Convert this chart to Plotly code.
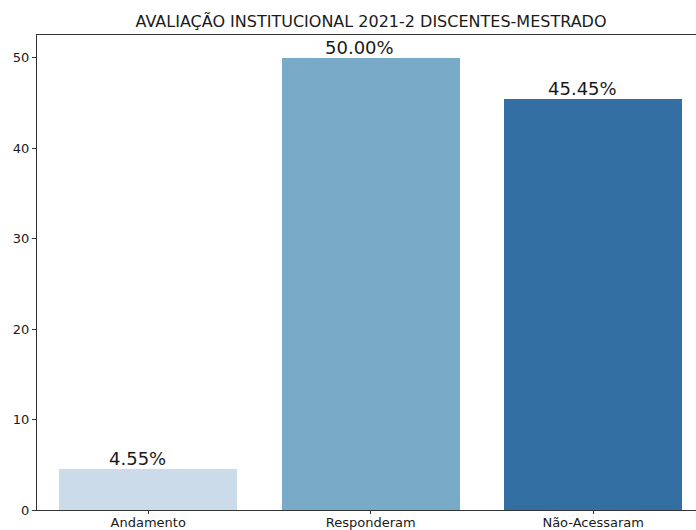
import plotly.graph_objects as go

categories = ["Andamento", "Responderam", "Não-Acessaram"]
values = [4.55, 50.00, 45.45]
labels = ["4.55%", "50.00%", "45.45%"]
colors = ["#cbdbea", "#79abc9", "#346fa3"]
title = "AVALIAÇÃO INSTITUCIONAL 2021-2 DISCENTES-MESTRADO"

fig = go.Figure()
fig.add_trace(go.Bar(
    x=list(range(len(categories))), y=values, width=0.8,
    marker=dict(color=colors, line=dict(width=0)),
    hoverinfo="skip",
))
for i, (v, t) in enumerate(zip(values, labels)):
    fig.add_annotation(x=i, y=v, text=t, showarrow=False, yanchor="bottom",
                       xshift=-11, yshift=-2,
                       font=dict(family="DejaVu Sans", size=18, color="#1a1a1a"))

fig.update_layout(
    width=696, height=530,
    margin=dict(l=37, r=0, t=35, b=20, autoexpand=False),
    paper_bgcolor="white", plot_bgcolor="white",
    showlegend=False,
    font=dict(family="DejaVu Sans", color="#1a1a1a"),
    title=dict(text=title, x=371/696, xanchor="center", xref="container",
               y=1 - 21/530, yanchor="middle", yref="container",
               font=dict(size=16, family="DejaVu Sans", color="#1a1a1a")),
    bargap=0,
)
fig.update_xaxes(range=[-0.5, 2.462], tickmode="array", tickvals=list(range(len(categories))),
                 ticktext=categories, ticks="outside", ticklen=3, tickwidth=1, tickcolor="#333",
                 showline=True, linecolor="#333", linewidth=1, mirror=True, showgrid=False,
                 zeroline=False, automargin=False, ticklabelstandoff=-3,
                 tickfont=dict(size=13, family="DejaVu Sans"))
fig.update_yaxes(range=[0, 52.5], tickvals=[0, 10, 20, 30, 40, 50], ticks="outside", ticklen=4,
                 tickwidth=1, tickcolor="#333", showline=True, linecolor="#333", linewidth=1,
                 mirror=False, showgrid=False, zeroline=False, automargin=False,
                 tickfont=dict(size=13, family="DejaVu Sans"))

fig.write_html("out.html", config={"displayModeBar": False},
               post_script="document.body.style.margin='0';document.body.style.overflow='hidden';")
